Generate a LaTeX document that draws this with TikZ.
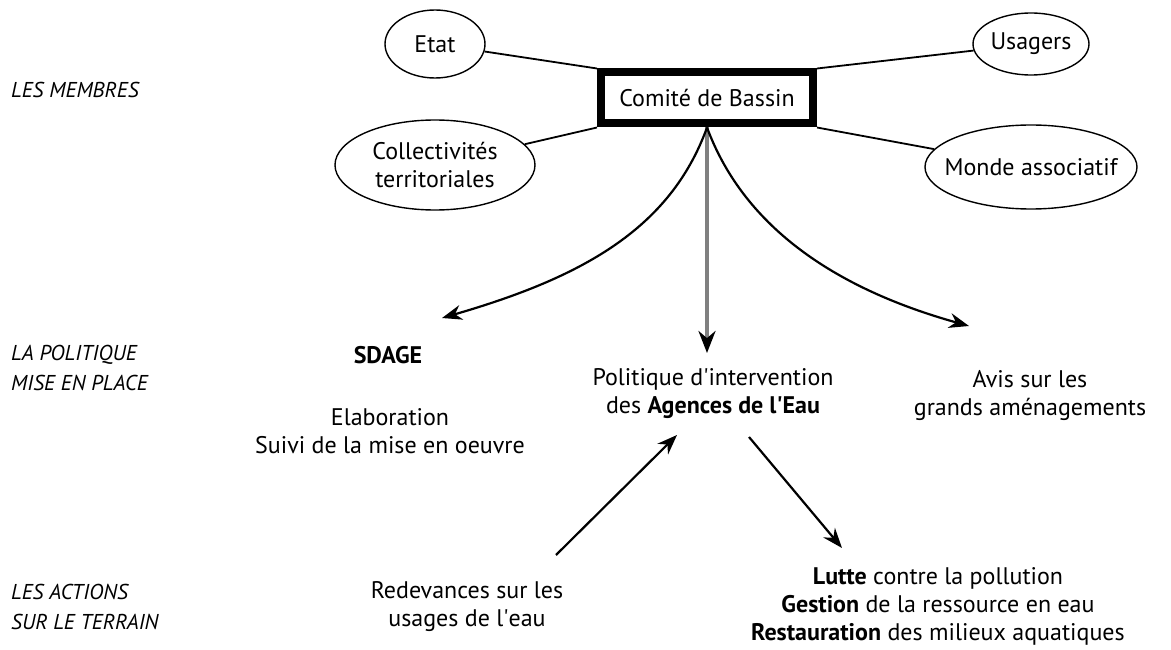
\documentclass[tikz,border=0pt]{standalone}
\usepackage{fontspec}
\setmainfont{PT Sans}
\usetikzlibrary{shapes.geometric,arrows.meta}
\begin{document}
\begin{tikzpicture}[x=1pt,y=-1pt,
  txt/.style={font=\fontsize{24}{28}\selectfont, align=center, inner sep=0pt},
  lbl/.style={font=\fontsize{21.5}{30}\selectfont\itshape, align=left, anchor=west, inner sep=0pt},
  memb/.style={draw, ellipse, line width=1.4pt, inner sep=0pt},
  mtxt/.style={font=\fontsize{24}{28}\selectfont, align=center, inner sep=0pt},
  link/.style={line width=1.8pt},
  arr/.style={line width=2.2pt, -{Stealth[length=20pt,width=15pt]}},
  garr/.style={line width=3.6pt, draw=black!50, -{Stealth[length=22pt,width=17pt,fill=black,color=black]}}
]
\useasboundingbox (0,0) rectangle (1171,650);
% members
\node[draw, line width=8pt, minimum width=212pt, minimum height=51pt, txt] (cb) at (707,98) {Comité de Bassin};
\node[memb, minimum width=100pt, minimum height=68pt, label={[mtxt]center:Etat}] (etat) at (435,44) {};
\node[memb, minimum width=116pt, minimum height=62pt, label={[mtxt]center:Usagers}] (usa) at (1031,44) {};
\node[memb, minimum width=200pt, minimum height=90pt, label={[mtxt]center:Collectivités\\territoriales}] (coll) at (435,165) {};
\node[memb, minimum width=212pt, minimum height=84pt, label={[mtxt]center:Monde associatif}] (monde) at (1031,167) {};
\draw[link] (etat) -- (cb.north west);
\draw[link] (coll) -- (cb.south west);
\draw[link] (usa) -- (cb.north east);
\draw[link] (monde) -- (cb.south east);
% row labels
\node[lbl] (l1) at (11,90) {LES MEMBRES};
\node[lbl] (l2) at (11,368) {LA POLITIQUE\\MISE EN PLACE};
\node[lbl] (l3) at (11,607) {LES ACTIONS\\SUR LE TERRAIN};
% policy
\node[txt] (sdage) at (388,355) {\textbf{SDAGE}};
\node[txt] (elab) at (390,431) {Elaboration\\Suivi de la mise en oeuvre};
\node[txt] (pol) at (713,394) {Politique d\textquotesingle intervention\\des \textbf{Agences de l\textquotesingle Eau}};
\node[txt] (avis) at (1030,396) {Avis sur les\\grands aménagements};
% actions
\node[txt] (red) at (467,607) {Redevances sur les\\usages de l\textquotesingle eau};
\node[txt] (act) at (938,606) {\textbf{Lutte} contre la pollution\\\textbf{Gestion} de la ressource en eau\\\textbf{Restauration} des milieux aquatiques};
% arrows
\coordinate (lend) at (442,318);
\coordinate (rend) at (969,326);
\coordinate (gend) at (707,353);
\coordinate (rstart) at (556,555);
\coordinate (pend) at (677,435);
\coordinate (astart) at (749,437);
\coordinate (aend) at (842,548);
\draw[garr] (cb.south) -- (gend);
\draw[arr] (cb.south) .. controls (670,230) and (580,278) .. (lend);
\draw[arr] (cb.south) .. controls (745,230) and (840,290) .. (rend);
\draw[arr] (rstart) -- (pend);
\draw[arr] (astart) -- (aend);
\end{tikzpicture}
\end{document}
